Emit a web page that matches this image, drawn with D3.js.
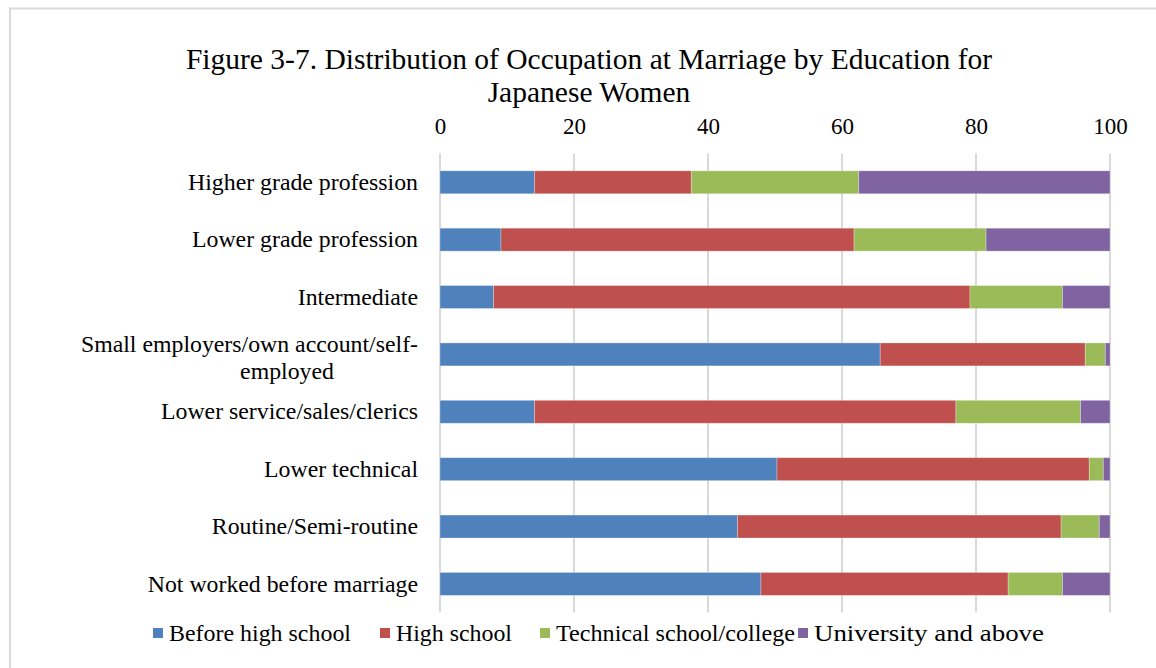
<!DOCTYPE html>
<html><head><meta charset="utf-8">
<script src="https://cdn.jsdelivr.net/npm/d3@7"></script>
<style>body{margin:0;background:#fff;}svg{display:block;}</style>
</head><body>
<svg id="chart" width="1156" height="668"></svg>
<script>
const categories = [
  "Higher grade profession",
  "Lower grade profession",
  "Intermediate",
  "Small employers/own account/self-employed",
  "Lower service/sales/clerics",
  "Lower technical",
  "Routine/Semi-routine",
  "Not worked before marriage"
];
const seriesNames = ["Before high school","High school","Technical school/college","University and above"];
const beforeHighSchool = [14.1, 9.1, 8.0, 65.7, 14.1, 50.3, 44.4, 47.9];
const highSchool       = [23.4, 52.7, 71.1, 30.6, 62.9, 46.6, 48.3, 36.9];
const technical        = [25.0, 19.7, 13.8, 3.0, 18.6, 2.1, 5.7, 8.1];
const university       = [37.5, 18.5, 7.1, 0.7, 4.4, 1.0, 1.6, 7.1];
const tickValues = [0, 20, 40, 60, 80, 100];
const colors = ["#4f81bd","#c0504d","#9bbb59","#8064a2"];

const svg = d3.select("#chart");
const font = "'Liberation Serif','Times New Roman',serif";

// outer frame
svg.append("rect").attr("x",10).attr("y",8.5).attr("width",1160).attr("height",680)
  .attr("fill","none").attr("stroke","#d9d9d9").attr("stroke-width",2);

// title
svg.append("text").attr("x",589).attr("y",69).attr("text-anchor","middle")
  .attr("font-family",font).attr("font-size",29.5).attr("fill","#000")
  .text("Figure 3-7. Distribution of Occupation at Marriage by Education for");
svg.append("text").attr("x",589).attr("y",102).attr("text-anchor","middle")
  .attr("font-family",font).attr("font-size",29.5).attr("fill","#000")
  .text("Japanese Women");

const x = d3.scaleLinear().domain([0,100]).range([440,1110]);
const y = d3.scaleBand().domain(categories).range([153.6,612.6]).paddingInner(0.6).paddingOuter(0.3);

// gridlines
svg.append("g").selectAll("line").data(tickValues).join("line")
  .attr("x1",d=>x(d)).attr("x2",d=>x(d)).attr("y1",153.6).attr("y2",612.6)
  .attr("stroke","#d9d9d9").attr("stroke-width",2);

// top axis labels
const xAxis = d3.axisTop(x).tickValues(tickValues).tickSize(0).tickPadding(0);
const gx = svg.append("g").attr("transform","translate(0,134)").call(xAxis);
gx.select(".domain").remove();
gx.selectAll("text").attr("font-family",font).attr("font-size",23).attr("fill","#000").attr("dy",0);

// stacked data
const rows = categories.map((c,i)=>({cat:c, v:[beforeHighSchool[i],highSchool[i],technical[i],university[i]]}));
const table = rows.map(r=>{const o={cat:r.cat}; seriesNames.forEach((s,k)=>o[s]=r.v[k]); return o;});
const stack = d3.stack().keys(seriesNames)(table);

svg.append("g").selectAll("g").data(stack).join("g")
  .attr("fill",(d,i)=>colors[i])
  .selectAll("rect").data(d=>d).join("rect")
  .attr("x",d=>x(d[0])).attr("width",d=>x(d[1])-x(d[0]))
  .attr("y",d=>y(d.data.cat)).attr("height",y.bandwidth())
  .attr("stroke","#ffffff").attr("stroke-opacity",0.35).attr("stroke-width",0.8);

// category labels
const yAxis = d3.axisLeft(y).tickSize(0).tickPadding(0);
const gy = svg.append("g").attr("transform","translate(418,0)").call(yAxis);
gy.select(".domain").remove();
gy.selectAll("text").attr("font-family",font).attr("font-size",23.8).attr("fill","#000")
  .each(function(d){
    const t = d3.select(this);
    if (d.indexOf("self-employed")>=0) {
      t.text(null).attr("dy",null);
      t.append("tspan").attr("x",0).attr("y",-2).text("Small employers/own account/self-");
      t.append("tspan").attr("x",-131).attr("y",25).attr("text-anchor","middle").text("employed");
    } else {
      t.attr("dy","0.32em");
    }
  });

// legend
const legendX = [153, 380, 540, 798];
const legendTextLen = [182, 116, 239, 230];
const lg = svg.append("g").selectAll("g").data(seriesNames).join("g")
  .attr("transform",(d,i)=>`translate(${legendX[i]},628)`);
lg.append("rect").attr("width",10).attr("height",10).attr("fill",(d,i)=>colors[i]);
lg.append("text").attr("x",16).attr("y",13).attr("font-family",font).attr("font-size",24)
  .attr("textLength",(d,i)=>legendTextLen[i]).attr("lengthAdjust","spacingAndGlyphs")
  .attr("fill","#000").text(d=>d);
</script>
</body></html>
